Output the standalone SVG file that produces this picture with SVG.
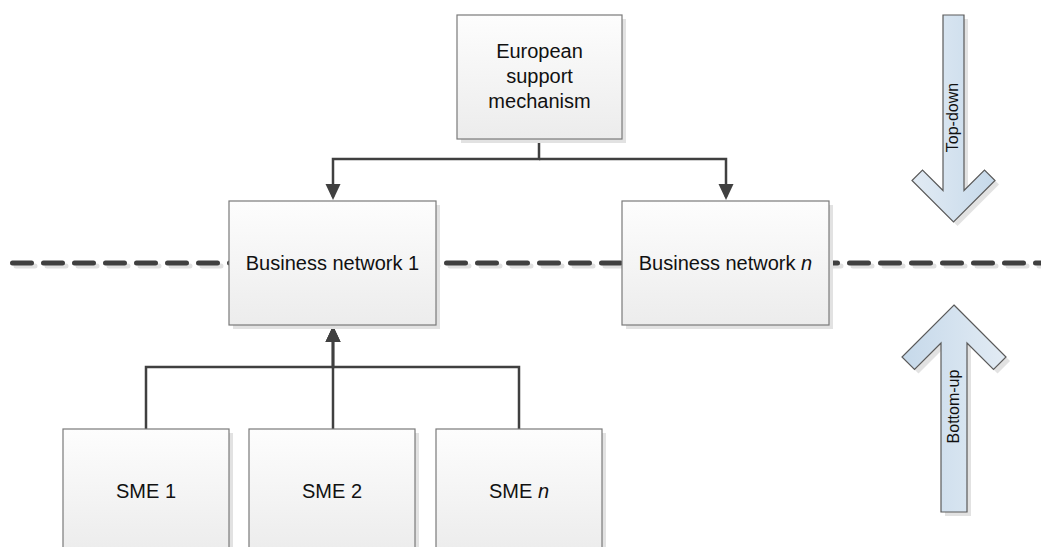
<svg xmlns="http://www.w3.org/2000/svg" width="1041" height="547" viewBox="0 0 1041 547">
  <defs>
    <linearGradient id="boxGrad" x1="0" y1="0" x2="0" y2="1">
      <stop offset="0" stop-color="#fdfdfd"/>
      <stop offset="1" stop-color="#ececec"/>
    </linearGradient>
    <linearGradient id="arrowUpGrad" x1="0" y1="0" x2="1" y2="0">
      <stop offset="0" stop-color="#c6d9ea"/>
      <stop offset="1" stop-color="#e2ebf4"/>
    </linearGradient>
    <linearGradient id="arrowDownGrad" x1="0" y1="0" x2="1" y2="0">
      <stop offset="0" stop-color="#e2ebf4"/>
      <stop offset="1" stop-color="#c6d9ea"/>
    </linearGradient>
    <marker id="arrowhead" viewBox="0 0 16 16" refX="13" refY="8" markerWidth="16" markerHeight="16" markerUnits="userSpaceOnUse" orient="auto">
      <path d="M0,0.5 L16,8 L0,15.5 z" fill="#404040"/>
    </marker>
  </defs>
  <style>
    .shadow { fill: #e2e2e2; }
    .box { fill: url(#boxGrad); stroke: #7a7a7a; stroke-width: 1.2; }
    .label { font-family: "Liberation Sans", Arial, sans-serif; font-size: 20px; fill: #111111; text-anchor: middle; }
    .small { font-family: "Liberation Sans", Arial, sans-serif; font-size: 16px; fill: #111111; text-anchor: middle; }
    .conn { fill: none; stroke: #404040; stroke-width: 2.5; }
    .dash { fill: none; stroke: #404040; stroke-width: 5; stroke-linecap: round; stroke-dasharray: 19 12; }
    .dashShadow { fill: none; stroke: #e0e0e0; stroke-width: 5; stroke-linecap: round; stroke-dasharray: 19 12; }
    .bigArrowShadow { fill: #e2e2e2; }
    .bigArrow { stroke: #5a5a5a; stroke-width: 1.2; }
  </style>
  <rect width="1041" height="547" fill="#ffffff"/>

  <g id="boundary-line">
    <line class="dashShadow" x1="16" y1="266" x2="1045" y2="266"/>
    <line class="dash" x1="12.5" y1="263" x2="1045" y2="263"/>
  </g>

  <g id="top-down">
    <polygon class="bigArrowShadow" points="947,19 968,19 968,194.5 988.5,174 999,184.5 957.5,226 916,184.5 926.5,174 947,194.5"/>
    <polygon class="bigArrow" fill="url(#arrowDownGrad)" points="943,15 964,15 964,190.5 984.5,170 995,180.5 953.5,222 912,180.5 922.5,170 943,190.5"/>
    <text class="small" transform="translate(957.5,117.5) rotate(-90)">Top-down</text>
  </g>

  <g id="bottom-up">
    <polygon class="bigArrowShadow" points="958,309 1010,361 997.5,373.5 971,347 971,516 945,516 945,347 918.5,373.5 906,361"/>
    <polygon class="bigArrow" fill="url(#arrowUpGrad)" points="954,305 1006,357 993.5,369.5 967,343 967,512 941,512 941,343 914.5,369.5 902,357"/>
    <text class="small" transform="translate(959,406.5) rotate(-90)">Bottom-up</text>
  </g>

  <g id="connectors">
    <path class="conn" d="M539,139 V159 H333 V197" marker-end="url(#arrowhead)"/>
    <path class="conn" d="M539,159 H726 V197" marker-end="url(#arrowhead)"/>
    <path class="conn" d="M146,429 V367 H333 V329" marker-end="url(#arrowhead)"/>
    <path class="conn" d="M519,429 V367 H333 V329" marker-end="url(#arrowhead)"/>
    <path class="conn" d="M333,429 V329" marker-end="url(#arrowhead)"/>
  </g>

  <g id="european-support">
    <rect class="shadow" x="461" y="19" width="165" height="124"/>
    <rect class="box" x="457" y="15" width="165" height="124"/>
    <text class="label" x="539.5" y="58">European</text>
    <text class="label" x="539.5" y="83">support</text>
    <text class="label" x="539.5" y="108">mechanism</text>
  </g>

  <g id="business-network-1">
    <rect class="shadow" x="233" y="205" width="207" height="124"/>
    <rect class="box" x="229" y="201" width="207" height="124"/>
    <text class="label" x="332.5" y="270">Business network 1</text>
  </g>

  <g id="business-network-n">
    <rect class="shadow" x="626" y="205" width="207" height="124"/>
    <rect class="box" x="622" y="201" width="207" height="124"/>
    <text class="label" x="725.5" y="270">Business network <tspan font-style="italic">n</tspan></text>
  </g>

  <g id="sme-1">
    <rect class="shadow" x="67" y="433" width="166" height="124"/>
    <rect class="box" x="63" y="429" width="166" height="124"/>
    <text class="label" x="146" y="498">SME 1</text>
  </g>

  <g id="sme-2">
    <rect class="shadow" x="253" y="433" width="166" height="124"/>
    <rect class="box" x="249" y="429" width="166" height="124"/>
    <text class="label" x="332" y="498">SME 2</text>
  </g>

  <g id="sme-n">
    <rect class="shadow" x="440" y="433" width="166" height="124"/>
    <rect class="box" x="436" y="429" width="166" height="124"/>
    <text class="label" x="519" y="498">SME <tspan font-style="italic">n</tspan></text>
  </g>
</svg>
